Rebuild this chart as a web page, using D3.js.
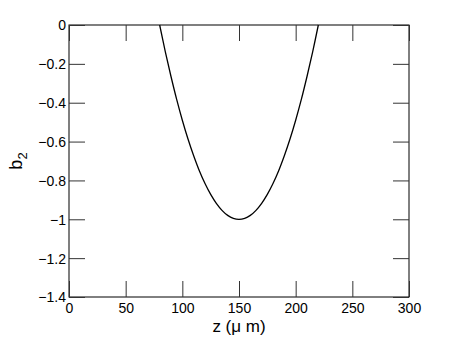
<!DOCTYPE html>
<html>
<head>
<meta charset="utf-8">
<script src="https://cdn.jsdelivr.net/npm/d3@7"></script>
<style>
  body { margin: 0; background: #fff; }
  svg { display: block; font-family: "Liberation Sans", Arial, sans-serif; }
</style>
</head>
<body>
<div id="plotSect"></div>
<script>
// chart data //
let zValues = [80, 85, 90, 95, 100, 105, 110, 115, 120, 125, 130, 135, 140, 145, 150,
               155, 160, 165, 170, 175, 180, 185, 190, 195, 200, 205, 210, 215, 220];
let b2Values = [0, -0.138, -0.265, -0.383, -0.490, -0.587, -0.673, -0.750, -0.816, -0.872, -0.918, -0.954, -0.980, -0.995, -1,
                -0.995, -0.980, -0.954, -0.918, -0.872, -0.816, -0.750, -0.673, -0.587, -0.490, -0.383, -0.265, -0.138, 0];
let xTicks = [0, 50, 100, 150, 200, 250, 300];
let yTicks = [0, -0.2, -0.4, -0.6, -0.8, -1, -1.2, -1.4];

let SVGwidth = 452,
    SVGheight = 340,
    margin = {top: 25, right: 43, bottom: 43, left: 69},
    width = SVGwidth - margin.left - margin.right,
    height = SVGheight - margin.top - margin.bottom;

let svg = d3.select("#plotSect").append("svg")
    .attr("width", SVGwidth)
    .attr("height", SVGheight)
    .append("g")
    .attr("transform", "translate(" + margin.left + "," + margin.top + ")");

let xScale = d3.scaleLinear().domain([0, 300]).range([0, width]);
let yScale = d3.scaleLinear().domain([-1.4, 0]).range([height, 0]);

let fmt = function(d) { return String(d).replace("-", "\u2212"); };
let tickLen = 16;

// box
svg.append("rect")
    .attr("width", width)
    .attr("height", height)
    .attr("fill", "none")
    .attr("stroke", "#000")
    .attr("stroke-width", 1);

// inward ticks on all four sides
let xAxisB = svg.append("g")
    .attr("transform", "translate(0," + height + ")")
    .call(d3.axisBottom(xScale).tickValues(xTicks).tickSize(-tickLen).tickPadding(6).tickFormat(fmt));
let xAxisT = svg.append("g")
    .call(d3.axisTop(xScale).tickValues(xTicks).tickSize(-tickLen).tickFormat(""));
let yAxisL = svg.append("g")
    .call(d3.axisLeft(yScale).tickValues(yTicks).tickSize(-tickLen).tickPadding(3).tickFormat(fmt));
let yAxisR = svg.append("g")
    .attr("transform", "translate(" + width + ",0)")
    .call(d3.axisRight(yScale).tickValues(yTicks).tickSize(-tickLen).tickFormat(""));

[xAxisB, xAxisT, yAxisL, yAxisR].forEach(function(a) {
    a.select(".domain").remove();
    a.selectAll(".tick line").attr("stroke", "#333");
    a.selectAll("text")
        .attr("fill", "#000")
        .style("font-size", "14px")
        .style("font-family", "'Liberation Sans', Arial, sans-serif");
});
yAxisL.selectAll("text").attr("dy", "0.35em");

// curve
let data = zValues.map(function(z, i) { return {z: z, b: b2Values[i]}; });
svg.append("path")
    .datum(data)
    .attr("fill", "none")
    .attr("stroke", "#000")
    .attr("stroke-width", 1.3)
    .attr("d", d3.line()
        .x(function(d) { return xScale(d.z); })
        .y(function(d) { return yScale(d.b); })
        .curve(d3.curveCatmullRom));

// axis labels
svg.append("text")
    .attr("x", width / 2)
    .attr("y", height + 35)
    .attr("text-anchor", "middle")
    .style("font-size", "17px")
    .text("z (\u03bc m)");

let yl = svg.append("text")
    .attr("transform", "translate(" + (-47) + "," + (height / 2) + ") rotate(-90)")
    .attr("text-anchor", "middle")
    .style("font-size", "18px");
yl.append("tspan").text("b");
yl.append("tspan").attr("dy", "5").style("font-size", "13px").text("2");
</script>
</body>
</html>
